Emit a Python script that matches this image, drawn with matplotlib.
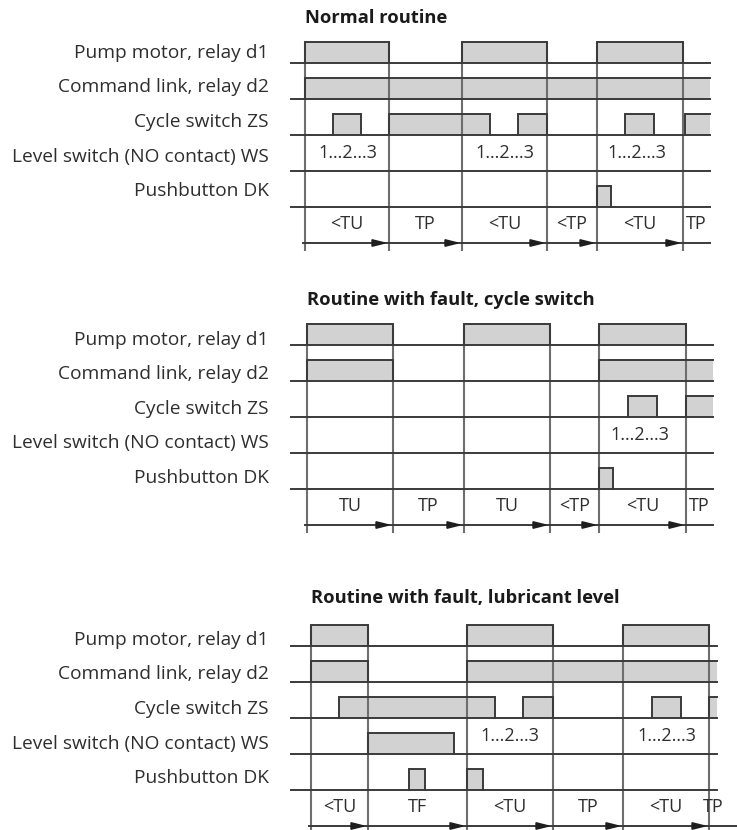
import matplotlib
matplotlib.use("Agg")
import matplotlib.pyplot as plt
from matplotlib.patches import Polygon

plt.rcParams['font.family'] = ['Open Sans', 'DejaVu Sans']

# ---------------- data ----------------
signal_names = ["Pump motor, relay d1", "Command link, relay d2", "Cycle switch ZS",
                "Level switch (NO contact) WS", "Pushbutton DK"]

titles = ["Normal routine", "Routine with fault, cycle switch",
          "Routine with fault, lubricant level"]

# panel 1 : normal routine (time in arbitrary units)
edges_1 = [15, 99, 172, 257, 307, 393]
end_1 = 420
d1_1 = [(15, 99), (172, 257), (307, 393)]
d2_1 = [(15, 420)]
zs_1 = [(43, 71), (99, 200), (228, 257), (335, 364), (395, 420)]
ws_1 = []
dk_1 = [(307, 321)]
count_1 = [58, 215, 347]
interval_1 = ["<TU", "TP", "<TU", "<TP", "<TU", "TP"]

# panel 2 : fault, cycle switch
edges_2 = [17, 103, 174, 260, 309, 396]
end_2 = 423
d1_2 = [(17, 103), (174, 260), (309, 396)]
d2_2 = [(17, 103), (309, 423)]
zs_2 = [(338, 367), (396, 423)]
ws_2 = []
dk_2 = [(309, 323)]
count_2 = [350]
interval_2 = ["TU", "TP", "TU", "<TP", "<TU", "TP"]

# panel 3 : fault, lubricant level
edges_3 = [21, 78, 177, 263, 333, 419]
end_3 = 427
d1_3 = [(21, 78), (177, 263), (333, 419)]
d2_3 = [(21, 78), (177, 427)]
zs_3 = [(49, 205), (233, 263), (362, 391), (419, 427)]
ws_3 = [(78, 164)]
dk_3 = [(119, 135), (177, 193)]
count_3 = [220, 377]
interval_3 = ["<TU", "TF", "<TU", "TP", "<TU", "TP"]

count_text = "1…2…3"

# ---------------- style ----------------
FILL = "#d2d2d2"
LINE = "#3a3a3a"
VLINE = "#6e6e6e"
TXT = "#2e2e2e"
HIGH = 0.58
W, H = 737, 830
ROW = 36.0

fig = plt.figure(figsize=(W / 100, H / 100), dpi=100)
fig.patch.set_facecolor("white")


def panel(base_px, title, title_dy, label_y0, edges, end, rows, counts, intervals,
          arrow_end, vbottom):
    top = base_px - 1.0 * ROW
    bottom = base_px + 5.5 * ROW
    ax = fig.add_axes([290 / W, 1 - bottom / H, 447 / W, (bottom - top) / H])
    ax.set_xlim(0, 447)
    ax.set_ylim(-5.5, 1.0)
    ax.axis("off")

    # fills
    for k, pulses in enumerate(rows):
        for a, b in pulses:
            ax.fill_between([a, b], -k, -k + HIGH, color=FILL, lw=0, zorder=1)
    # vertical lines
    for e in edges:
        ax.plot([e, e], [HIGH, vbottom], color=VLINE, lw=1.5, zorder=2,
                solid_capstyle="butt", clip_on=False)
    # baselines
    for k in range(5):
        ax.plot([-3, end], [-k, -k], color=LINE, lw=1.4, zorder=3)
    # pulse outlines
    for k, pulses in enumerate(rows):
        for a, b in pulses:
            xs = [a, a, b]
            ys = [-k, -k + HIGH, -k + HIGH]
            if b < end:
                xs.append(b)
                ys.append(-k)
            ax.plot(xs, ys, color=LINE, lw=1.4, zorder=3, solid_joinstyle="miter")
    # arrow row
    ax.plot([edges[0] - 2, arrow_end], [-5, -5], color=LINE, lw=1.4, zorder=3, clip_on=False)
    for e in edges[1:]:
        tip = e - 4
        ax.add_patch(Polygon([(tip, -5), (tip - 13, -5 + 0.09), (tip - 13, -5 - 0.09)],
                             closed=True, color="#1e1e1e", zorder=4))
    # interval labels
    bounds = list(edges) + [end]
    for i, lab in enumerate(intervals):
        xm = (bounds[i] + bounds[i + 1]) / 2
        ax.text(xm, -4.47, lab, ha="center", va="center", fontsize=13, color=TXT)
    # count labels
    for c in counts:
        ax.text(c, -2.5, count_text, ha="center", va="center", fontsize=13, color=TXT)
    # title
    ax.text(edges[0], title_dy, title, ha="left", va="center", fontsize=13.2,
            fontweight="bold", color="#1a1a1a", clip_on=False)
    # signal names
    for i, name in enumerate(signal_names):
        ax.text(-21, label_y0 - 0.96 * i, name, ha="right", va="center",
                fontsize=13.8, color=TXT, clip_on=False)
    return ax


panel(63, titles[0], 1.25, 0.28, edges_1, end_1,
      [d1_1, d2_1, zs_1, ws_1, dk_1], count_1, interval_1, end_1, -5.22)
panel(345, titles[1], 1.25, 0.15, edges_2, end_2,
      [d1_2, d2_2, zs_2, ws_2, dk_2], count_2, interval_2, end_2, -5.22)
panel(646, titles[2], 1.33, 0.17, edges_3, end_3,
      [d1_3, d2_3, zs_3, ws_3, dk_3], count_3, interval_3, 447, -5.5)

fig.savefig("out.png", dpi=100, facecolor="white")
